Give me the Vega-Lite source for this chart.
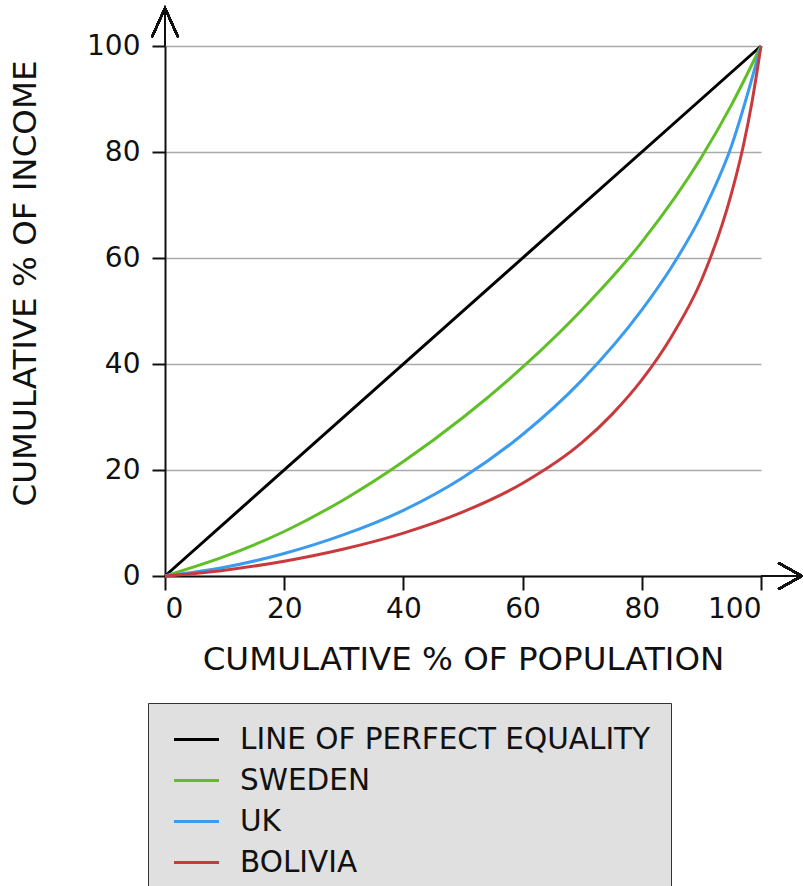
{
  "$schema": "https://vega.github.io/schema/vega-lite/v6.json",
  "width": 596,
  "height": 530,
  "autosize": {"type": "none"},
  "padding": {"left": 165, "top": 46, "right": 42, "bottom": 310},
  "background": "white",
  "config": {
    "font": "DejaVu Sans",
    "view": {"stroke": null},
    "axis": {
      "domainColor": "#111111",
      "domainWidth": 2,
      "tickColor": "#111111",
      "tickWidth": 2,
      "labelColor": "#111111",
      "labelFontSize": 28,
      "labelFont": "DejaVu Sans",
      "titleFont": "DejaVu Sans",
      "titleFontSize": 32.5,
      "titleFontWeight": "normal",
      "titleColor": "#111111"
    },
    "legend": {
      "orient": "none",
      "legendX": -17,
      "legendY": 657,
      "padding": 20,
      "fillColor": "#e0e0e0",
      "strokeColor": "#333333",
      "symbolType": "M-1.5,0L1.5,0",
      "symbolSize": 900,
      "symbolStrokeWidth": 3,
      "symbolOffset": 12,
      "labelOffset": 27,
      "labelFontSize": 29.5,
      "labelFont": "DejaVu Sans",
      "labelColor": "#111111",
      "rowPadding": 10,
      "labelLimit": 700
    }
  },
  "data": {
    "values": [
      {"series": "LINE OF PERFECT EQUALITY", "pop": 0, "income": 0},
      {"series": "LINE OF PERFECT EQUALITY", "pop": 100, "income": 100},
      {"series": "SWEDEN", "pop": 0, "income": 0},
      {"series": "SWEDEN", "pop": 10, "income": 3.7},
      {"series": "SWEDEN", "pop": 20, "income": 8.4},
      {"series": "SWEDEN", "pop": 30, "income": 14.4},
      {"series": "SWEDEN", "pop": 40, "income": 21.6},
      {"series": "SWEDEN", "pop": 50, "income": 29.9},
      {"series": "SWEDEN", "pop": 60, "income": 39.4},
      {"series": "SWEDEN", "pop": 70, "income": 50.3},
      {"series": "SWEDEN", "pop": 80, "income": 63.0},
      {"series": "SWEDEN", "pop": 90, "income": 79.0},
      {"series": "SWEDEN", "pop": 95, "income": 88.8},
      {"series": "SWEDEN", "pop": 100, "income": 100},
      {"series": "UK", "pop": 0, "income": 0},
      {"series": "UK", "pop": 10, "income": 1.65},
      {"series": "UK", "pop": 20, "income": 4.25},
      {"series": "UK", "pop": 30, "income": 7.8},
      {"series": "UK", "pop": 40, "income": 12.4},
      {"series": "UK", "pop": 50, "income": 18.6},
      {"series": "UK", "pop": 60, "income": 26.7},
      {"series": "UK", "pop": 70, "income": 37.0},
      {"series": "UK", "pop": 80, "income": 50.2},
      {"series": "UK", "pop": 85, "income": 58.3},
      {"series": "UK", "pop": 90, "income": 68.1},
      {"series": "UK", "pop": 95, "income": 81.0},
      {"series": "UK", "pop": 100, "income": 100},
      {"series": "BOLIVIA", "pop": 0, "income": 0},
      {"series": "BOLIVIA", "pop": 10, "income": 1.1},
      {"series": "BOLIVIA", "pop": 20, "income": 2.8},
      {"series": "BOLIVIA", "pop": 30, "income": 5.1},
      {"series": "BOLIVIA", "pop": 40, "income": 8.1},
      {"series": "BOLIVIA", "pop": 50, "income": 12.1},
      {"series": "BOLIVIA", "pop": 60, "income": 17.5},
      {"series": "BOLIVIA", "pop": 70, "income": 25.2},
      {"series": "BOLIVIA", "pop": 75, "income": 30.5},
      {"series": "BOLIVIA", "pop": 80, "income": 37.0},
      {"series": "BOLIVIA", "pop": 85, "income": 45.2},
      {"series": "BOLIVIA", "pop": 90, "income": 55.8},
      {"series": "BOLIVIA", "pop": 95, "income": 72.0},
      {"series": "BOLIVIA", "pop": 97, "income": 81.0},
      {"series": "BOLIVIA", "pop": 98.5, "income": 89.5},
      {"series": "BOLIVIA", "pop": 100, "income": 100}
    ]
  },
  "layer": [
    {
      "mark": {"type": "line", "strokeWidth": 3, "interpolate": "monotone", "clip": false},
      "encoding": {
        "x": {
          "field": "pop", "type": "quantitative",
          "scale": {"domain": [0, 100], "nice": false, "zero": false},
          "axis": {
            "title": "CUMULATIVE % OF POPULATION",
            "values": [0, 20, 40, 60, 80, 100],
            "grid": false,
            "tickSize": 14,
            "labelPadding": 5,
            "titlePadding": 20
          }
        },
        "y": {
          "field": "income", "type": "quantitative",
          "scale": {"domain": [0, 100], "nice": false, "zero": false},
          "axis": {
            "title": "CUMULATIVE % OF INCOME",
            "values": [0, 20, 40, 60, 80, 100],
            "grid": true,
            "gridColor": "#aaaaaa",
            "gridWidth": 1.5,
            "tickSize": 13,
            "labelPadding": 12,
            "titlePadding": 44,
            "titleY": 237
          }
        },
        "color": {
          "field": "series", "type": "nominal",
          "scale": {
            "domain": ["LINE OF PERFECT EQUALITY", "SWEDEN", "UK", "BOLIVIA"],
            "range": ["#000000", "#5fbf27", "#3a9bef", "#c93a3d"]
          },
          "legend": {"title": null}
        },
        "order": {"field": "pop", "type": "quantitative"}
      }
    },
    {
      "mark": {"type": "rule", "color": "#111111", "strokeWidth": 2, "clip": false},
      "encoding": {
        "x": {"datum": 100, "type": "quantitative"},
        "x2": {"datum": 106.8},
        "y": {"datum": 0, "type": "quantitative"}
      }
    },
    {
      "mark": {"type": "rule", "color": "#111111", "strokeWidth": 2, "clip": false},
      "encoding": {
        "x": {"datum": 0, "type": "quantitative"},
        "y": {"datum": 100, "type": "quantitative"},
        "y2": {"datum": 107.2}
      }
    },
    {
      "mark": {"type": "point", "shape": "M-1,-1.1L1,0L-1,1.1", "filled": false, "stroke": "#111111", "strokeWidth": 2, "size": 562, "opacity": 1, "clip": false},
      "encoding": {
        "x": {"datum": 104.9, "type": "quantitative"},
        "y": {"datum": 0, "type": "quantitative"}
      }
    },
    {
      "mark": {"type": "point", "shape": "M-0.9,1L0,-1L0.9,1", "filled": false, "stroke": "#111111", "strokeWidth": 2, "size": 841, "opacity": 1, "clip": false},
      "encoding": {
        "x": {"datum": 0, "type": "quantitative"},
        "y": {"datum": 104.4, "type": "quantitative"}
      }
    }
  ]
}
